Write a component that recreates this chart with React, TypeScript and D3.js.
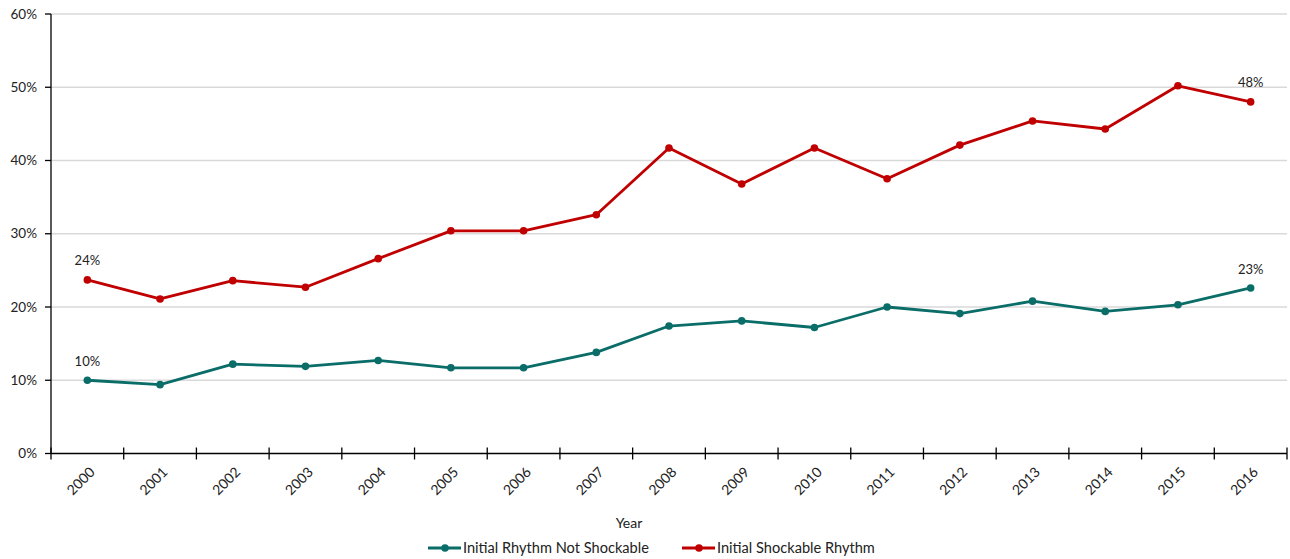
import React from "react";
import * as d3 from "d3";

const years = ["2000","2001","2002","2003","2004","2005","2006","2007","2008","2009","2010","2011","2012","2013","2014","2015","2016"];
const notShockable = [10.0, 9.4, 12.2, 11.9, 12.7, 11.7, 11.7, 13.8, 17.4, 18.1, 17.2, 20.0, 19.1, 20.8, 19.4, 20.3, 22.6];
const shockable = [23.7, 21.1, 23.6, 22.7, 26.6, 30.4, 30.4, 32.6, 41.7, 36.8, 41.7, 37.5, 42.1, 45.4, 44.3, 50.2, 48.0];
const yTicks = [0, 10, 20, 30, 40, 50, 60];
const labelledIdx = [0, 16];

const W = 1290, H = 559;
const M = { left: 51, right: 1287, top: 14, bottom: 453.5 };
const FONT = "Lato, 'Open Sans', sans-serif";
const GREEN = "#0A6D68";
const RED = "#C00000";

export default function App() {
  const x = d3.scaleBand<string>().domain(years).range([M.left, M.right]);
  const y = d3.scaleLinear().domain([0, 60]).range([M.bottom, M.top]);
  const cx = (i: number) => (x(years[i]) as number) + x.bandwidth() / 2;
  const line = d3.line<number>().x((_, i) => cx(i)).y((d) => y(d));
  const series = [
    { name: "Initial Rhythm Not Shockable", values: notShockable, color: GREEN },
    { name: "Initial Shockable Rhythm", values: shockable, color: RED },
  ];
  const bandEdges = years.map((yr) => x(yr) as number).concat([M.right]);

  return (
    <svg width={W} height={H} style={{ position: "absolute", left: 0, top: 0, fontFamily: FONT }}>
      <rect width={W} height={H} fill="#fff" />
      {yTicks.filter((t) => t > 0).map((t) => (
        <line key={t} x1={M.left} x2={M.right} y1={y(t)} y2={y(t)} stroke="#d9d9d9" strokeWidth={1.3} />
      ))}
      {/* y axis */}
      <line x1={M.left} x2={M.left} y1={M.top} y2={M.bottom} stroke="#000" strokeWidth={1.3} />
      {yTicks.map((t) => (
        <g key={t}>
          <line x1={M.left - 6} x2={M.left} y1={y(t)} y2={y(t)} stroke="#000" strokeWidth={1.3} />
          <text x={37} y={y(t)} dy="0.35em" textAnchor="end" fontSize={13.5} fill="#222">{t}%</text>
        </g>
      ))}
      {/* x axis */}
      <line x1={M.left} x2={M.right} y1={M.bottom} y2={M.bottom} stroke="#000" strokeWidth={1.3} />
      {bandEdges.map((e, i) => (
        <line key={i} x1={e} x2={e} y1={M.bottom - 6} y2={M.bottom + 6} stroke="#000" strokeWidth={1.3} />
      ))}
      {years.map((yr, i) => (
        <text key={yr} transform={`translate(${cx(i) + 5},${M.bottom + 16}) rotate(-45)`} textAnchor="end" dy="0.35em" fontSize={14} fill="#222">{yr}</text>
      ))}
      <text x={629} y={523} dy="0.35em" textAnchor="middle" fontSize={14} fill="#222">Year</text>
      {/* series */}
      {series.map((s) => (
        <g key={s.name}>
          <path d={line(s.values) || ""} fill="none" stroke={s.color} strokeWidth={2.8} strokeLinejoin="round" />
          {s.values.map((v, i) => (
            <circle key={i} cx={cx(i)} cy={y(v)} r={3.8} fill={s.color} />
          ))}
          {labelledIdx.map((i) => (
            <text key={i} x={cx(i)} y={y(s.values[i]) - 19} dy="0.35em" textAnchor="middle" fontSize={13} fill="#222">
              {Math.round(s.values[i])}%
            </text>
          ))}
        </g>
      ))}
      {/* legend */}
      {series.map((s, k) => {
        const lx = k === 0 ? 428 : 682;
        return (
          <g key={s.name}>
            <line x1={lx} x2={lx + 33} y1={548} y2={548} stroke={s.color} strokeWidth={2.8} />
            <circle cx={lx + 17} cy={548} r={3.8} fill={s.color} />
            <text x={lx + 35} y={548} dy="0.35em" fontSize={14.6} fill="#222">{s.name}</text>
          </g>
        );
      })}
    </svg>
  );
}
